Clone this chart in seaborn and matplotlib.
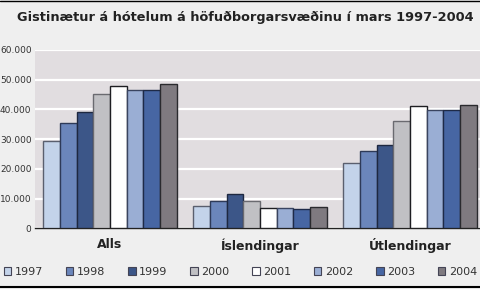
import matplotlib
matplotlib.use("Agg")
import matplotlib.pyplot as plt
import seaborn as sns
import pandas as pd
from matplotlib.patches import Patch
from matplotlib.lines import Line2D

categories = ["Alls", "Íslendingar", "Útlendingar"]
years = ["1997", "1998", "1999", "2000", "2001", "2002", "2003", "2004"]
alls = [29400, 35300, 39100, 45300, 47800, 46700, 46700, 48500]
islendingar = [7500, 9200, 11500, 9100, 6900, 6900, 6600, 7000]
utlendingar = [22100, 26100, 27900, 36100, 41200, 39700, 39700, 41500]
yticks = [0, 10000, 20000, 30000, 40000, 50000, 60000]
ytick_labels = ["0", "10.000", "20.000", "30.000", "40.000", "50.000", "60.000"]
colors = ["#c3d3ea", "#6b86bb", "#3c5688", "#c0c0c4", "#ffffff",
          "#9aaed4", "#4766a3", "#7f7a80"]
edges = ["#5a5f6e", "#2e3a58", "#1e2840", "#6a6a70", "#1e1e22",
         "#3a4460", "#1e2a48", "#2a2a2e"]
title = "Gistinætur á hótelum á höfuðborgarsvæðinu í mars 1997-2004"

rows = []
for cat, vals in zip(categories, [alls, islendingar, utlendingar]):
    for y, v in zip(years, vals):
        rows.append({"cat": cat, "year": y, "val": v})
df = pd.DataFrame(rows)

sns.set_theme(style="white")
plt.rcParams["font.family"] = ["DejaVu Sans"]

fig = plt.figure(figsize=(4.8, 2.89), dpi=100, facecolor="#efefef")
ax = fig.add_axes([35/480, 1-228.3/289, 450/480, (228.3-50)/289])
ax.set_facecolor("#e1dde0")

sns.barplot(data=df, x="cat", y="val", hue="year", hue_order=years,
            order=categories, palette=colors, saturation=1, width=0.887,
            dodge=True, linewidth=1.0, legend=False, ax=ax, zorder=3)
for container, ec in zip(ax.containers, edges):
    for bar in container:
        bar.set_edgecolor(ec)

ax.set_ylim(0, 60000)
ax.set_xlim(-0.5, 2.5)
ax.set_yticks(yticks)
ax.set_yticklabels(ytick_labels, fontsize=6.5, color="#333333")
ax.yaxis.grid(True, color="white", linewidth=1.6, zorder=0)
ax.set_axisbelow(True)
ax.tick_params(axis="y", length=1.5, color="white", pad=1)
ax.tick_params(axis="x", length=0, pad=7)
for lbl in ax.get_xticklabels():
    lbl.set_fontweight("bold")
    lbl.set_fontsize(9)
    lbl.set_color("#222222")
ax.set_xlabel("")
ax.set_ylabel("")
for s in ["top", "right", "left"]:
    ax.spines[s].set_visible(False)
ax.spines["bottom"].set_color("#222222")
ax.spines["bottom"].set_linewidth(1.0)

fig.text(245/480, 1-17/289, title, ha="center", va="center",
         fontsize=9.3, fontweight="bold", color="#222222")

handles = [Patch(facecolor=c, edgecolor="#444455", linewidth=0.8) for c in colors]
fig.legend(handles, years, loc="center left",
           bbox_to_anchor=(4/480, 1-272/289, 473/480, 0), mode="expand",
           ncol=8, frameon=False, fontsize=8, handlelength=0.65,
           handleheight=0.65, handletextpad=0.3, borderaxespad=0,
           borderpad=0, columnspacing=0.5, labelcolor="#333333")

fig.add_artist(Line2D([0, 1], [1-287/289, 1-287/289], color="black",
                      linewidth=1.5, transform=fig.transFigure))
fig.add_artist(Line2D([0, 1], [1-0.5/289, 1-0.5/289], color="black",
                      linewidth=1.0, transform=fig.transFigure))

fig.savefig("out.png", dpi=100, facecolor=fig.get_facecolor())
